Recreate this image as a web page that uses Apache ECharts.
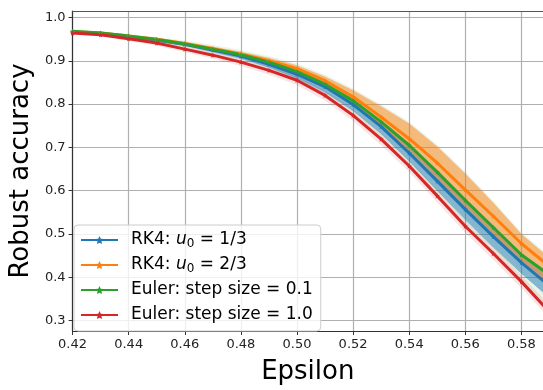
<!DOCTYPE html>
<html>
<head>
<meta charset="utf-8">
<script src="https://cdn.jsdelivr.net/npm/echarts@6/dist/echarts.min.js"></script>
<style>
  html, body { margin: 0; padding: 0; background: #fff; }
  #chart { width: 543px; height: 390px; }
</style>
</head>
<body>
<div id="chart"></div>
<script>
// epsilon values (x)
const eps = [0.42, 0.43, 0.44, 0.45, 0.46, 0.47, 0.48, 0.49, 0.50, 0.51, 0.52, 0.53, 0.54, 0.55, 0.56, 0.57, 0.58, 0.59];

// RK4, u0 = 1/3
const rk4Third = [0.966, 0.963, 0.956, 0.948, 0.938, 0.925, 0.911, 0.892, 0.869, 0.840, 0.799, 0.748, 0.687, 0.622, 0.557, 0.494, 0.434, 0.380];
const rk4ThirdLow = [0.964, 0.960, 0.953, 0.944, 0.934, 0.920, 0.905, 0.884, 0.859, 0.827, 0.784, 0.731, 0.668, 0.600, 0.533, 0.469, 0.408, 0.352];
const rk4ThirdHigh = [0.968, 0.964, 0.957, 0.949, 0.939, 0.927, 0.914, 0.897, 0.875, 0.846, 0.808, 0.759, 0.705, 0.643, 0.578, 0.515, 0.452, 0.405];

// RK4, u0 = 2/3
const rk4TwoThirds = [0.967, 0.964, 0.957, 0.950, 0.940, 0.928, 0.916, 0.900, 0.882, 0.854, 0.817, 0.770, 0.720, 0.664, 0.602, 0.541, 0.478, 0.425];
const rk4TwoThirdsLow = [0.965, 0.962, 0.955, 0.947, 0.937, 0.924, 0.910, 0.890, 0.867, 0.838, 0.797, 0.745, 0.684, 0.619, 0.554, 0.491, 0.431, 0.377];
const rk4TwoThirdsHigh = [0.969, 0.966, 0.960, 0.953, 0.944, 0.933, 0.921, 0.907, 0.890, 0.864, 0.832, 0.795, 0.755, 0.702, 0.640, 0.572, 0.500, 0.445];

// Euler, step size 0.1
const eulerSmall = [0.968, 0.964, 0.957, 0.949, 0.939, 0.927, 0.914, 0.897, 0.875, 0.846, 0.808, 0.759, 0.705, 0.643, 0.578, 0.515, 0.452, 0.405];
const eulerSmallLow = [0.963, 0.959, 0.950, 0.940, 0.926, 0.912, 0.896, 0.877, 0.853, 0.818, 0.772, 0.717, 0.655, 0.586, 0.516, 0.453, 0.388, 0.320];
const eulerSmallHigh = [0.971, 0.968, 0.962, 0.955, 0.947, 0.937, 0.925, 0.911, 0.894, 0.868, 0.836, 0.799, 0.759, 0.706, 0.644, 0.576, 0.504, 0.449];

// Euler, step size 1.0
const eulerLarge = [0.964, 0.960, 0.951, 0.941, 0.927, 0.913, 0.897, 0.878, 0.855, 0.820, 0.774, 0.719, 0.657, 0.588, 0.518, 0.455, 0.390, 0.320];
const eulerLargeLow = [0.961, 0.956, 0.946, 0.935, 0.920, 0.905, 0.888, 0.868, 0.844, 0.808, 0.761, 0.705, 0.643, 0.573, 0.503, 0.440, 0.375, 0.305];
const eulerLargeHigh = [0.967, 0.964, 0.956, 0.947, 0.934, 0.921, 0.906, 0.888, 0.866, 0.832, 0.787, 0.733, 0.671, 0.603, 0.533, 0.470, 0.405, 0.335];

const xTicks = [0.42, 0.44, 0.46, 0.48, 0.50, 0.52, 0.54, 0.56, 0.58];
const yTicks = [0.3, 0.4, 0.5, 0.6, 0.7, 0.8, 0.9, 1.0];

const blue = '#1f77b4';
const orange = '#ff7f0e';
const green = '#2ca02c';
const red = '#d62728';
const font = 'DejaVu Sans';
const star = 'path://M0,-10L2.9,-4L9.5,-3.1L4.7,1.5L5.9,8.1L0,5L-5.9,8.1L-4.7,1.5L-9.5,-3.1L-2.9,-4Z';

const legendText = {
  'RK4: u0 = 1/3': 'RK4: {i|u}{s|0} = 1/3',
  'RK4: u0 = 2/3': 'RK4: {i|u}{s|0} = 2/3',
  'Euler: step size = 0.1': 'Euler: step size = 0.1',
  'Euler: step size = 1.0': 'Euler: step size = 1.0',
};

const pairs = (ys) => eps.map((x, i) => [x, ys[i]]);

// shaded band: one polygon built from every (x, low, high) row
const band = (low, high, color, opacity) => ({
  type: 'custom',
  silent: true,
  clip: true,
  z: 1,
  data: eps.map((x, i) => [x, low[i], high[i]]),
  encode: { x: 0, y: [1, 2] },
  renderItem: (params, api) => {
    if (params.dataIndex !== 0) return null;
    const top = [];
    const bottom = [];
    for (let i = 0; i < eps.length; i++) {
      top.push(api.coord([eps[i], high[i]]));
      bottom.unshift(api.coord([eps[i], low[i]]));
    }
    return {
      type: 'polygon',
      shape: { points: top.concat(bottom) },
      style: { fill: color, opacity: opacity },
    };
  },
});

const curve = (name, ys, color) => ({
  name: name,
  type: 'line',
  data: pairs(ys),
  color: color,
  symbol: star,
  symbolSize: 5,
  showAllSymbol: true,
  lineStyle: { width: 3, color: color },
  itemStyle: { color: color, borderWidth: 0 },
  z: 3,
});

const myChart = echarts.init(document.getElementById('chart'), null, { renderer: 'canvas' });
const option = {
  animation: false,
  grid: { left: 66, right: 0, top: 11, bottom: 49 },
  legend: {
    orient: 'vertical',
    left: 74,
    top: 225,
    data: Object.keys(legendText),
    itemWidth: 37,
    itemHeight: 10,
    itemGap: 5,
    padding: [5, 8, 6, 6],
    backgroundColor: 'rgba(255,255,255,0.8)',
    borderColor: '#cccccc',
    borderWidth: 1,
    borderRadius: 4,
    formatter: (name) => legendText[name],
    textStyle: {
      fontFamily: font,
      fontSize: 17,
      color: '#000',
      lineHeight: 20,
      padding: [0, 0, 0, 8],
      rich: {
        i: { fontFamily: font, fontSize: 17, fontStyle: 'italic', lineHeight: 20 },
        s: { fontFamily: font, fontSize: 12, lineHeight: 12, padding: [8, 0, 0, 0] },
      },
    },
  },
  xAxis: [
    {
      type: 'value',
      min: 0.42,
      max: 0.5877,
      name: 'Epsilon',
      nameLocation: 'middle',
      nameGap: 28,
      nameTextStyle: { fontFamily: font, fontSize: 26, color: '#000' },
      axisLine: { onZero: false, lineStyle: { color: '#333', width: 1.2 } },
      axisTick: { customValues: xTicks, length: 4, lineStyle: { color: '#333' } },
      axisLabel: {
        customValues: xTicks,
        formatter: (v) => v.toFixed(2),
        fontFamily: font, fontSize: 13, color: '#222', margin: 7,
      },
      splitLine: { show: true, lineStyle: { color: '#b0b0b0', width: 1.2 } },
    },
    {
      type: 'value',
      position: 'top',
      min: 0.42,
      max: 0.5877,
      axisLine: { lineStyle: { color: '#555', width: 1.2 } },
      axisTick: { show: false },
      axisLabel: { show: false },
      splitLine: { show: false },
    },
  ],
  yAxis: {
    type: 'value',
    min: 0.276,
    max: 1.015,
    name: 'Robust accuracy',
    nameLocation: 'middle',
    nameGap: 37,
    nameTextStyle: { fontFamily: font, fontSize: 26, color: '#000' },
    axisLine: { show: true, lineStyle: { color: '#333', width: 1.2 } },
    axisTick: { show: true, customValues: yTicks, length: 4, lineStyle: { color: '#333' } },
    axisLabel: {
      customValues: yTicks,
      formatter: (v) => v.toFixed(1),
      fontFamily: font, fontSize: 13, color: '#222', margin: 7,
    },
    splitLine: { show: true, lineStyle: { color: '#b0b0b0', width: 1.2 } },
  },
  series: [
    band(eulerSmallLow, eulerSmallHigh, green, 0.1),
    band(eulerLargeLow, eulerLargeHigh, red, 0.12),
    band(rk4ThirdLow, rk4ThirdHigh, blue, 0.5),
    band(rk4TwoThirdsLow, rk4TwoThirdsHigh, orange, 0.5),
    curve('RK4: u0 = 1/3', rk4Third, blue),
    curve('RK4: u0 = 2/3', rk4TwoThirds, orange),
    curve('Euler: step size = 0.1', eulerSmall, green),
    curve('Euler: step size = 1.0', eulerLarge, red),
  ],
};
myChart.setOption(option);
</script>
</body>
</html>
